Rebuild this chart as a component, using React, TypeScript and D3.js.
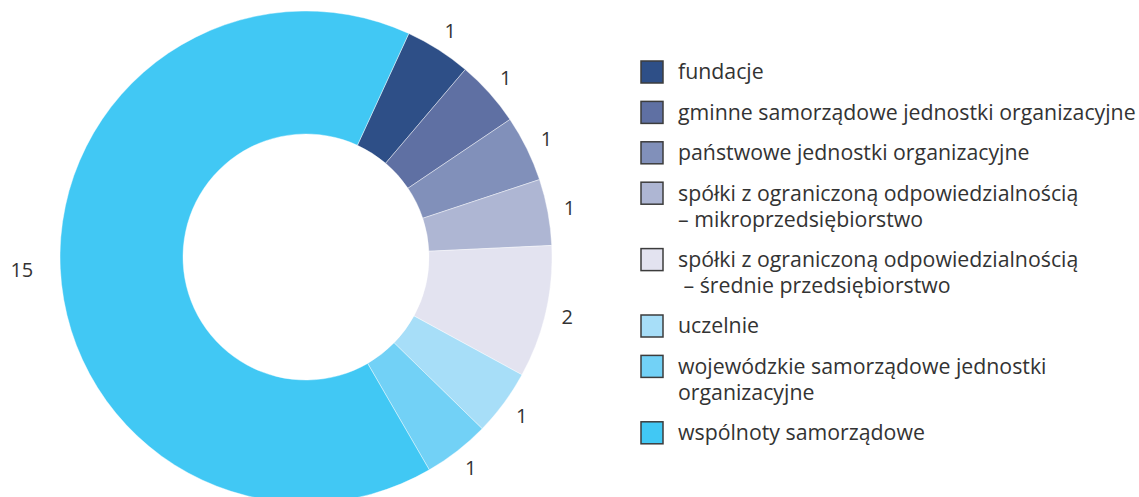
import React, { useRef, useEffect } from 'react';
import * as d3 from 'd3';

// categories as shown in the legend (lines split with \n)
const categories = [
  'fundacje',
  'gminne samorządowe jednostki organizacyjne',
  'państwowe jednostki organizacyjne',
  'spółki z ograniczoną odpowiedzialnością\n– mikroprzedsiębiorstwo',
  'spółki z ograniczoną odpowiedzialnością\n – średnie przedsiębiorstwo',
  'uczelnie',
  'wojewódzkie samorządowe jednostki\norganizacyjne',
  'wspólnoty samorządowe'
];
const values = [1, 1, 1, 1, 2, 1, 1, 15];
const colors = ['#2e4f87', '#5f70a3', '#8190ba', '#aeb6d3', '#e3e3f0', '#a7def8', '#72d1f6', '#41c8f4'];

const W = 1139;
const H = 497;

const App = () => {
  const ref = useRef<SVGSVGElement>(null);

  useEffect(() => {
    const svg = d3.select(ref.current);
    svg.selectAll('*').remove();

    const cx = 306;
    const cy = 257;
    const outerR = 246;
    const innerR = 123;
    const labelR = 268;
    const font = '"Open Sans", "Noto Sans", sans-serif';

    const data = values.map((v, i) => ({ name: categories[i], value: v, color: colors[i] }));

    // first slice begins a bit right of 12 o'clock
    const start = (24.7 * Math.PI) / 180;
    const pie = d3.pie<any>()
      .value(d => d.value)
      .sort(null)
      .startAngle(start)
      .endAngle(start + 2 * Math.PI);

    const arc = d3.arc<any>().innerRadius(innerR).outerRadius(outerR);

    const g = svg.append('g').attr('transform', `translate(${cx},${cy})`);
    const arcs = pie(data);

    g.selectAll('path')
      .data(arcs)
      .enter().append('path')
      .attr('d', arc)
      .attr('fill', d => d.data.color)
      .attr('stroke', '#ffffff')
      .attr('stroke-opacity', 0.6)
      .attr('stroke-width', 0.7);

    // value labels outside the ring
    g.selectAll('text.val')
      .data(arcs)
      .enter().append('text')
      .attr('class', 'val')
      .each(function (d) {
        const a = (d.startAngle + d.endAngle) / 2;
        const s = Math.sin(a);
        const c = -Math.cos(a);
        const t = d3.select(this);
        if (s < -0.5) {
          // left side: right edge of label sits just off the ring
          t.attr('x', s * (labelR + 5)).attr('y', c * labelR).attr('text-anchor', 'end');
        } else {
          t.attr('x', s * labelR).attr('y', c * labelR).attr('text-anchor', 'middle');
        }
      })
      .attr('dy', '0.35em')
      .style('font-family', font)
      .style('font-size', '20px')
      .attr('fill', '#333333')
      .text(d => d.data.value);

    // legend
    const legendX = 641;
    const textX = 678;
    const lineH = 26;
    const step = 40.4;
    let y = 72;
    data.forEach(d => {
      const lines = d.name.split('\n');
      const row = svg.append('g');
      row.append('rect')
        .attr('x', legendX)
        .attr('y', y - 11)
        .attr('width', 22)
        .attr('height', 22)
        .attr('fill', d.color)
        .attr('stroke', '#3c3c3c')
        .attr('stroke-width', 1.5);
      const txt = row.append('text')
        .attr('x', textX)
        .attr('y', y)
        .attr('dy', '0.35em')
        .style('font-family', font)
        .style('font-size', '21.3px')
        .style('white-space', 'pre')
        .attr('fill', '#333333');
      lines.forEach((ln, i) => {
        txt.append('tspan')
          .attr('x', textX)
          .attr('y', y + i * lineH)
          .attr('dy', '0.35em')
          .text(ln);
      });
      y += step + (lines.length - 1) * lineH;
    });
  }, []);

  return (
    <svg
      ref={ref}
      width={W}
      height={H}
      style={{ position: 'absolute', left: 0, top: 0, background: '#ffffff' }}
    ></svg>
  );
};

export default App;
